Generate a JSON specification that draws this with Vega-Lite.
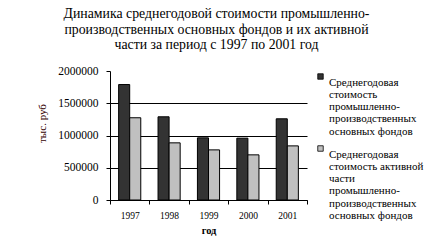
{
  "$schema": "https://vega.github.io/schema/vega-lite/v6.json",
  "width": 197,
  "height": 129,
  "autosize": {"type": "none"},
  "padding": {"left": 110, "top": 71, "right": 125, "bottom": 52},
  "background": "white",
  "title": {
    "text": ["Динамика среднегодовой стоимости промышленно-", "производственных основных фондов и их активной", "части за период с 1997 по 2001 год"],
    "font": "Liberation Serif",
    "fontSize": 13.8,
    "fontWeight": "normal",
    "color": "#000000",
    "anchor": "middle",
    "dx": 8,
    "lineHeight": 15.5,
    "offset": 13
  },
  "data": {
    "values": [
      {"year": "1997", "series": "S1", "value": 1790000},
      {"year": "1997", "series": "S2", "value": 1275000},
      {"year": "1998", "series": "S1", "value": 1290000},
      {"year": "1998", "series": "S2", "value": 886000},
      {"year": "1999", "series": "S1", "value": 964000},
      {"year": "1999", "series": "S2", "value": 777000},
      {"year": "2000", "series": "S1", "value": 959000},
      {"year": "2000", "series": "S2", "value": 700000},
      {"year": "2001", "series": "S1", "value": 1259000},
      {"year": "2001", "series": "S2", "value": 839000}
    ]
  },
  "mark": {"type": "bar", "stroke": "#000000", "strokeWidth": 1},
  "encoding": {
    "x": {
      "field": "year",
      "type": "nominal",
      "scale": {"paddingInner": 0, "paddingOuter": 0},
      "axis": {
        "title": "год",
        "titleFont": "Liberation Serif",
        "titleFontSize": 10.5,
        "titleFontWeight": "bold",
        "titleColor": "#000000",
        "titlePadding": 6,
        "labelFont": "Liberation Serif",
        "labelFontSize": 9.5,
        "labelColor": "#000000",
        "labelAngle": 0,
        "labelPadding": 6,
        "tickBand": "extent",
        "tickSize": 4,
        "tickColor": "#000000",
        "domainColor": "#000000",
        "grid": false
      }
    },
    "xOffset": {
      "field": "series",
      "type": "nominal",
      "scale": {"paddingInner": 0, "paddingOuter": 0.78}
    },
    "y": {
      "field": "value",
      "type": "quantitative",
      "scale": {"domain": [0, 2000000], "nice": false},
      "axis": {
        "title": "тыс. руб",
        "titleFont": "Liberation Serif",
        "titleFontSize": 11,
        "titleFontWeight": "normal",
        "titleColor": "#330000",
        "titlePadding": 10,
        "titleY": 52,
        "labelFont": "Liberation Serif",
        "labelFontSize": 11.5,
        "labelColor": "#000000",
        "labelPadding": 8,
        "values": [0, 500000, 1000000, 1500000, 2000000],
        "format": "d",
        "tickSize": 4,
        "tickColor": "#000000",
        "domainColor": "#000000",
        "grid": true,
        "gridColor": "#000000",
        "gridOpacity": {"condition": {"test": "datum.value >= 2000000", "value": 0}, "value": 1}
      }
    },
    "fill": {
      "field": "series",
      "type": "nominal",
      "scale": {"domain": ["S1", "S2"], "range": ["#333333", "#c0c0c0"]},
      "legend": {
        "title": null,
        "orient": "none",
        "legendX": 205,
        "legendY": 0,
        "symbolType": "square",
        "symbolSize": 30,
        "symbolStrokeColor": "#000000",
        "symbolStrokeWidth": 0.8,
        "labelFont": "Liberation Serif",
        "labelFontSize": 11,
        "labelColor": "#000000",
        "labelBaseline": "top",
        "labelOffset": 3,
        "labelLimit": 200,
        "rowPadding": 6,
        "labelExpr": "datum.value == 'S1' ? ['Среднегодовая', 'стоимость', 'промышленно-', 'производственных', 'основных фондов'] : ['Среднегодовая', 'стоимость активной', 'части', 'промышленно-', 'производственных', 'основных фондов']"
      }
    }
  },
  "config": {"view": {"stroke": null}, "style": {"guide-label": {"lineHeight": 12.3}}}
}
